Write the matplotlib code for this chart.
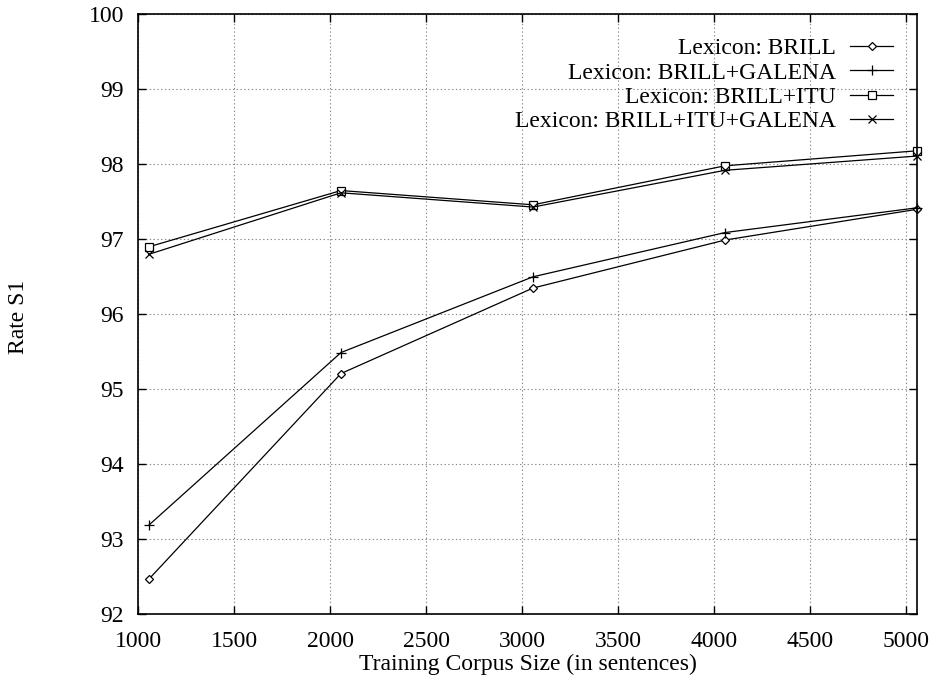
import matplotlib
matplotlib.use('Agg')
import matplotlib.pyplot as plt

# Training corpus sizes (sentences) and S1 rates per lexicon
corpus_size = [1057, 2057, 3057, 4057, 5057]
rate_brill = [92.47, 95.21, 96.35, 96.99, 97.40]
rate_brill_galena = [93.19, 95.49, 96.50, 97.09, 97.42]
rate_brill_itu = [96.90, 97.65, 97.46, 97.98, 98.18]
rate_brill_itu_galena = [96.80, 97.62, 97.43, 97.92, 98.11]

series_labels = ['Lexicon: BRILL', 'Lexicon: BRILL+GALENA',
                 'Lexicon: BRILL+ITU', 'Lexicon: BRILL+ITU+GALENA']
x_ticks = [1000, 1500, 2000, 2500, 3000, 3500, 4000, 4500, 5000]
y_ticks = [92, 93, 94, 95, 96, 97, 98, 99, 100]

plt.rcParams['font.family'] = ['Liberation Serif', 'DejaVu Serif']
plt.rcParams['font.size'] = 17

fig = plt.figure(figsize=(9.35, 6.84), dpi=100)
ax = fig.add_axes([0.1476, 0.1019, 0.8332, 0.8772])

styles = [
    dict(marker='D', markersize=4.5, markerfacecolor='white'),
    dict(marker='+', markersize=7),
    dict(marker='s', markersize=6, markerfacecolor='white'),
    dict(marker='x', markersize=6),
]
all_rates = [rate_brill, rate_brill_galena, rate_brill_itu, rate_brill_itu_galena]
for rates, label, st in zip(all_rates, series_labels, styles):
    ax.plot(corpus_size, rates, color='black', lw=0.9, markeredgewidth=0.9,
            label=label, clip_on=False, **st)

ax.set_xlim(1000, 5057)
ax.set_ylim(92, 100)
ax.set_xticks(x_ticks)
ax.set_yticks(y_ticks)
ax.tick_params(direction='in', length=6, width=1, top=True, right=True)
ax.tick_params(axis='x', pad=12)
ax.tick_params(axis='y', pad=10)
ax.grid(True, color='#888888', linestyle=(0, (1.2, 2.2)), linewidth=0.8)
for sp in ax.spines.values():
    sp.set_linewidth(1.2)

ax.set_xlabel('Training Corpus Size (in sentences)', labelpad=1.5)
# gnuplot puts the y label far out at the left edge
fig.text(18 / 935, 1 - 317 / 684, 'Rate S1', ha='center', va='center', rotation=90)

leg = ax.legend(loc='upper right', bbox_to_anchor=(0.981, 0.9767), frameon=False,
                markerfirst=False, handlelength=1.8, handletextpad=0.6,
                labelspacing=0.12, borderaxespad=0)
# right-align the key texts like gnuplot does
for col in leg._legend_handle_box.get_children():
    col.align = 'right'

fig.savefig('out.png', dpi=100)
